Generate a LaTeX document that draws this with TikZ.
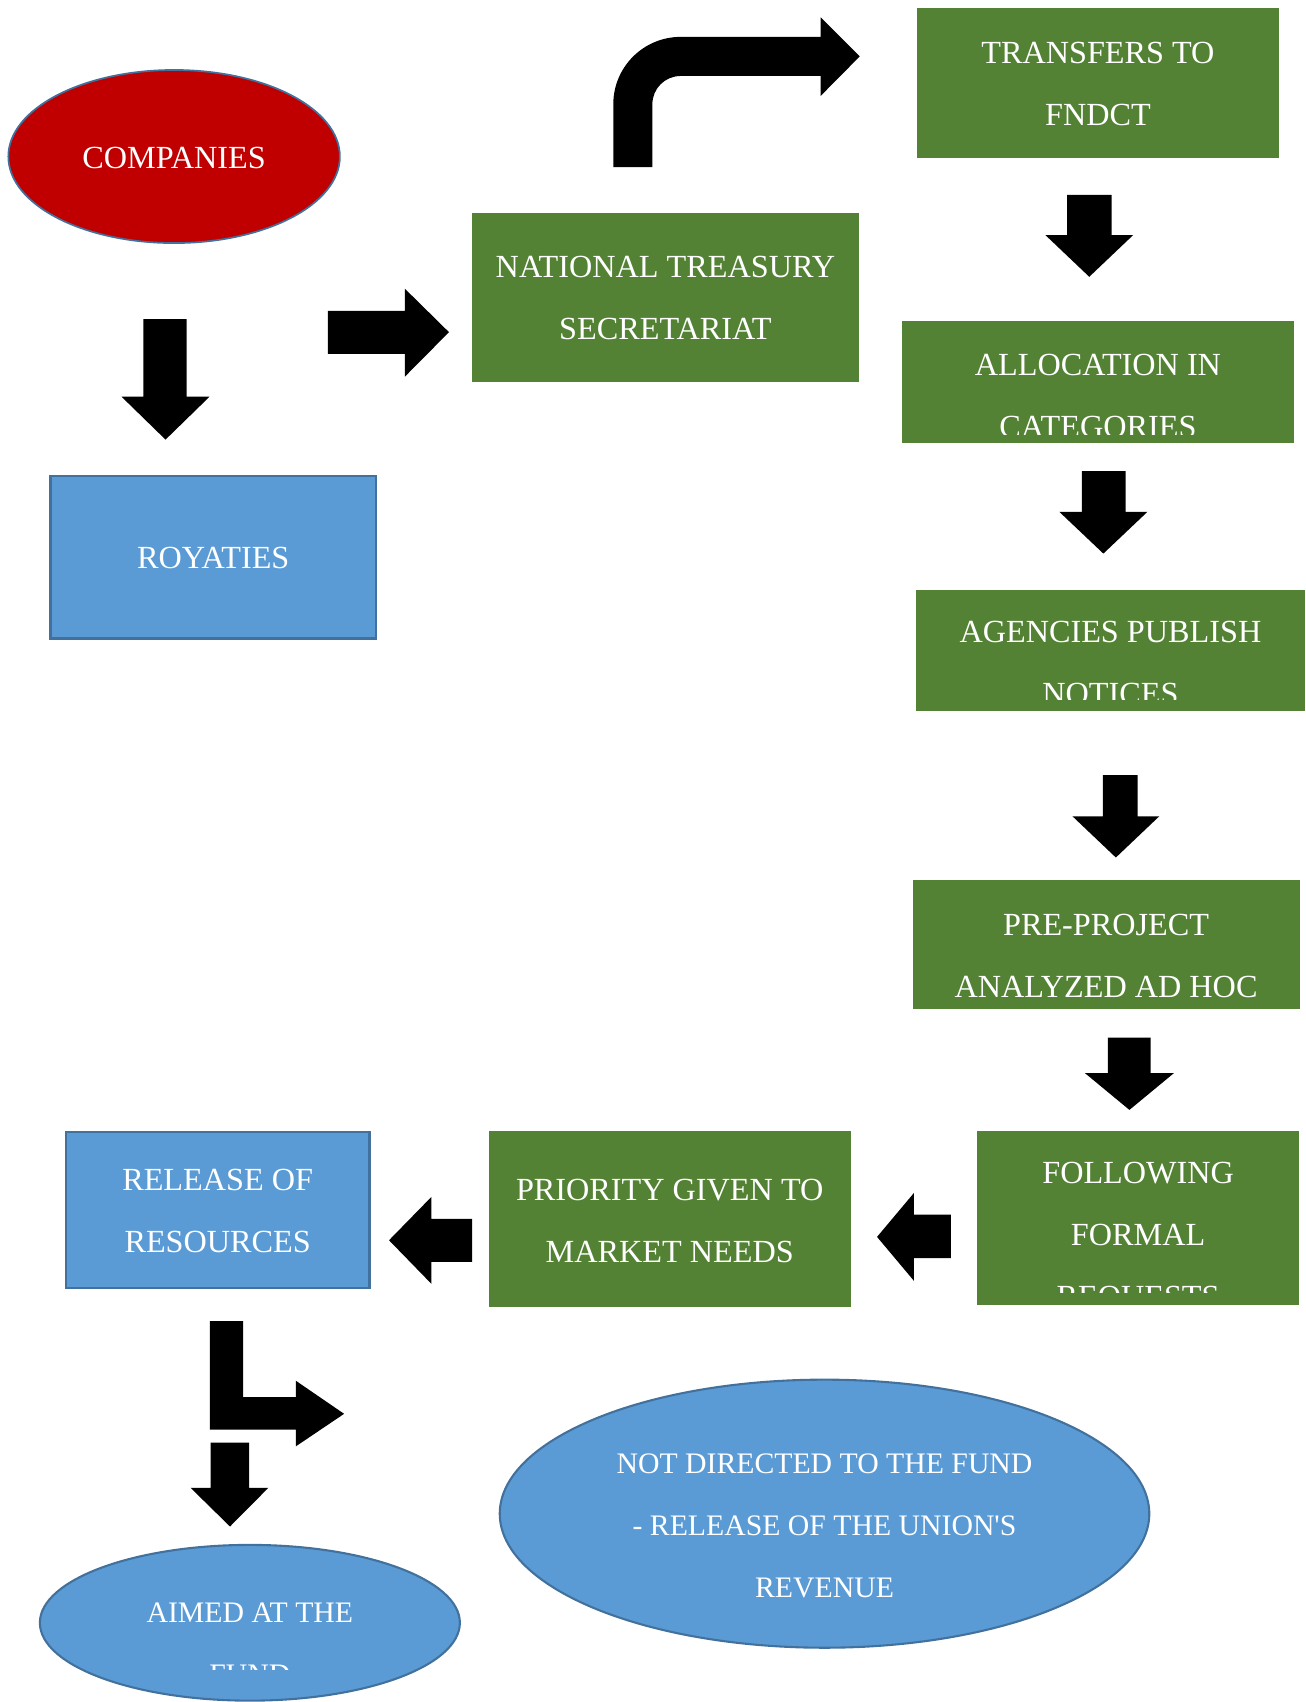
\documentclass[tikz,border=0pt]{standalone}
\usepackage{fontspec}
\setmainfont{Liberation Serif}
\usetikzlibrary{shapes.geometric,fit}
\definecolor{cRed}{HTML}{C00000}
\definecolor{cGreen}{HTML}{548235}
\definecolor{cBlue}{HTML}{5B9BD5}
\definecolor{cEdge}{HTML}{41719C}
\begin{document}
\begin{tikzpicture}[x=0.02cm,y=-0.02cm,
  txt/.style={text=white, inner sep=0pt, align=center, font=\fontsize{16.9}{32.5}\selectfont},
  etxt/.style={txt, font=\fontsize{15.6}{32.5}\selectfont},
  gbox/.style={fill=cGreen, draw=none, inner sep=0pt},
  bbox/.style={fill=cBlue, draw=cEdge, line width=1.3pt, inner sep=0pt},
  rellipse/.style={ellipse, inner sep=0pt, fill=cRed, draw=cEdge, line width=0.9pt},
  bellipse/.style={ellipse, inner sep=0pt, fill=cBlue, draw=cEdge, line width=1.1pt},
  blk/.style={fill=black, draw=none}]
\useasboundingbox (0,0) rectangle (1203,1568);

% ---------- shapes ----------
\node[rellipse, minimum width=6.11cm, minimum height=3.19cm] (comp) at (160.4,144.2) {};
\node[txt] (compT) at (160.4,145.5) {COMPANIES};

\node[bbox, fit={(46.7,438.7) (346.3,588.3)}] (roy) {};
\node[txt] (royT) at (196.5,514) {ROYATIES};

\node[gbox, fit={(435,196) (791,352)}] (nat) {};
\node[txt] (natT) at (613,274.7) {NATIONAL TREASURY\\SECRETARIAT};

\node[gbox, fit={(845,7) (1178,146)}] (trans) {};
\node[txt] (transT) at (1011.5,77.5) {TRANSFERS TO\\FNDCT};

\node[gbox, fit={(831,296) (1192,408)}] (alloc) {};
\begin{scope}
  \clip (831,296) rectangle (1192,400);
  \node[txt] (allocT) at (1011.5,364.5) {ALLOCATION IN\\CATEGORIES};
\end{scope}

\node[gbox, fit={(844,543.5) (1202,655)}] (agen) {};
\begin{scope}
  \clip (844,543.5) rectangle (1202,644);
  \node[txt] (agenT) at (1023,610.5) {AGENCIES PUBLISH\\NOTICES};
\end{scope}

\node[gbox, fit={(841,811) (1197.5,930)}] (pre) {};
\node[txt] (preT) at (1019,880.5) {PRE-PROJECT\\ANALYZED AD HOC};

\node[gbox, fit={(900,1042) (1197,1202)}] (foll) {};
\begin{scope}
  \clip (900,1042) rectangle (1197,1191);
  \node[txt] (follT) at (1048.5,1139.6) {FOLLOWING\\FORMAL\\REQUESTS};
\end{scope}

\node[gbox, fit={(450.4,1042) (784,1204)}] (prio) {};
\node[txt] (prioT) at (617,1124.5) {PRIORITY GIVEN TO\\MARKET NEEDS};

\node[bbox, fit={(60.7,1042.7) (340.3,1186.8)}] (rel) {};
\node[txt] (relT) at (200.5,1115.5) {RELEASE OF\\RESOURCES};

\node[bellipse, minimum width=11.97cm, minimum height=4.94cm] (notdir) at (759.6,1394.5) {};
\node[etxt] (notdirT) at (759.6,1405.7) {NOT DIRECTED TO THE FUND\\- RELEASE OF THE UNION\textquotesingle S\\REVENUE};

\node[bellipse, minimum width=7.74cm, minimum height=2.87cm] (aimed) at (230.2,1495) {};
\begin{scope}
  \clip (37,1424) rectangle (424,1538);
  \node[etxt] (aimedT) at (230.2,1514.5) {AIMED AT THE\\FUND};
\end{scope}

% ---------- block arrows ----------
% companies -> royalties
\fill[blk] (132,294) -- (172,294) -- (172,365.5) -- (193,365.5) -- (152.5,405) -- (112,365.5) -- (132,365.5) -- cycle;
% -> national treasury
\fill[blk] (302,286.5) -- (373,286.5) -- (373,266) -- (413.6,306) -- (373,347) -- (373,326) -- (302,326) -- cycle;
% bent arrow national -> transfers
\fill[blk] (565,154) -- (565,96) .. controls (565,61.8) and (592.8,34) .. (627,34)
  -- (756,34) -- (756,16) -- (792,52) -- (756,88.4) -- (756,70) -- (627,70)
  .. controls (612.6,70) and (601,81.6) .. (601,96) -- (601,154) -- cycle;
% transfers -> allocation
\fill[blk] (983,179.6) -- (1024,179.6) -- (1024,216.5) -- (1044,216.5) -- (1003.5,255) -- (963,216.5) -- (983,216.5) -- cycle;
% allocation -> agencies
\fill[blk] (996.7,434) -- (1037,434) -- (1037,471.6) -- (1057,471.6) -- (1016.5,510) -- (976,471.6) -- (996.7,471.6) -- cycle;
% agencies -> pre-project
\fill[blk] (1016,714) -- (1048,714) -- (1048,752) -- (1068,752) -- (1028,790) -- (988,752) -- (1016,752) -- cycle;
% pre-project -> following
\fill[blk] (1020.7,956) -- (1060,956) -- (1060,988.6) -- (1081.5,988.6) -- (1040.5,1022.5) -- (999.5,988.6) -- (1020.7,988.6) -- cycle;
% following -> priority
\fill[blk] (876,1119) -- (842,1119) -- (842,1099) -- (808,1139.5) -- (842,1180) -- (842,1159) -- (876,1159) -- cycle;
% priority -> release
\fill[blk] (435,1123) -- (397.5,1123) -- (397.5,1102.6) -- (358.4,1142.6) -- (397.5,1182.8) -- (397.5,1162.6) -- (435,1162.6) -- cycle;
% bent arrow down-right
\fill[blk] (193.4,1217) -- (224,1217) -- (224,1287) -- (272.5,1287) -- (272.5,1272) -- (317,1302.5) -- (272.5,1332.5) -- (272.5,1317) -- (193.4,1317) -- cycle;
% down to aimed
\fill[blk] (194,1329) -- (229.4,1329) -- (229.4,1370.7) -- (247.2,1370.7) -- (211.9,1406.3) -- (175.6,1370.7) -- (194,1370.7) -- cycle;
\end{tikzpicture}
\end{document}
